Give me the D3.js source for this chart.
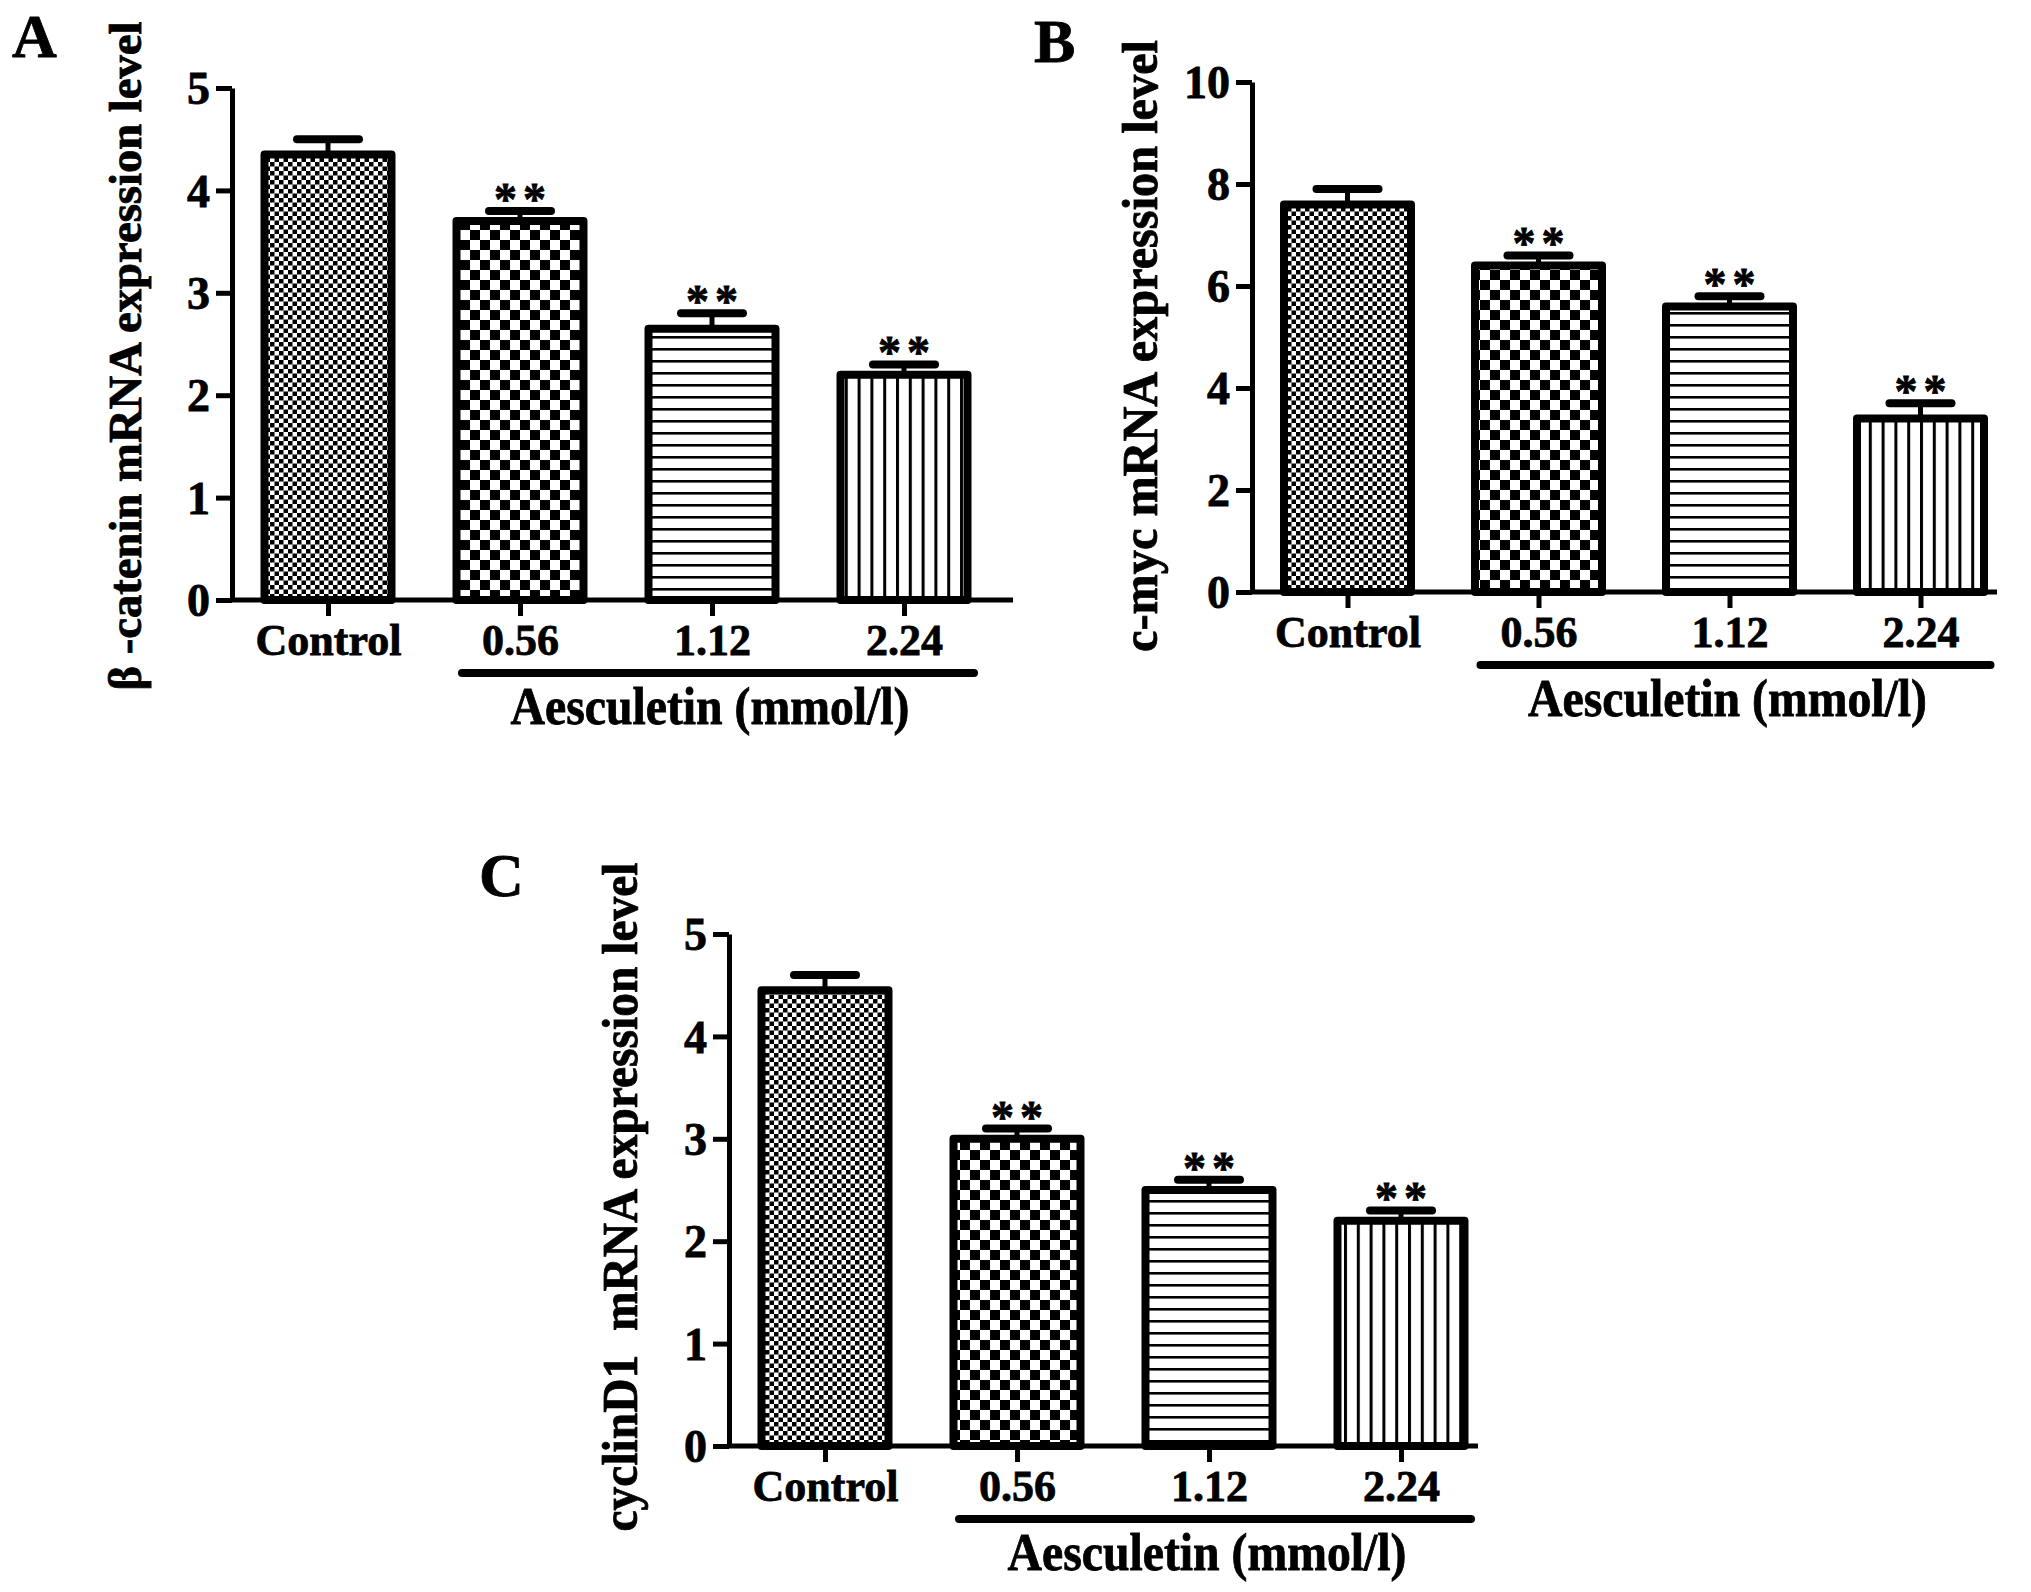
<!DOCTYPE html>
<html>
<head>
<meta charset="utf-8">
<title>Aesculetin mRNA expression</title>
<script src="https://d3js.org/d3.v7.min.js"></script>
<style>
  body { margin: 0; background: #fff; }
  text { font-family: "Liberation Serif", "Times New Roman", serif; font-weight: bold; fill: #000; stroke: #000; stroke-width: 0.8px; }
</style>
</head>
<body>
<script>
// data
var categories = ['Control', '0.56', '1.12', '2.24']
var stars = ['', '**', '**', '**']

var betaCateninMean = [4.35, 3.7, 2.65, 2.2]
var betaCateninErr = [0.15, 0.1, 0.15, 0.1]

var cMycMean = [7.6, 6.4, 5.6, 3.4]
var cMycErr = [0.3, 0.2, 0.2, 0.3]

var cyclinD1Mean = [4.45, 3.0, 2.5, 2.2]
var cyclinD1Err = [0.15, 0.1, 0.1, 0.1]

var ticksFive = [0, 1, 2, 3, 4, 5]
var ticksTen = [0, 2, 4, 6, 8, 10]

var w = 2031
var h = 1592
var svg = d3.select('body').append('svg').attr('width', w).attr('height', h)

// fill patterns, one per group
var defs = svg.append('defs')

var p1 = defs.append('pattern').attr('id', 'fineCheck').attr('patternUnits', 'userSpaceOnUse')
    .attr('width', 9).attr('height', 9)
p1.append('rect').attr('width', 9).attr('height', 9).attr('fill', '#fff')
p1.append('rect').attr('width', 4.5).attr('height', 4.5).attr('fill', '#000')
p1.append('rect').attr('x', 4.5).attr('y', 4.5).attr('width', 4.5).attr('height', 4.5).attr('fill', '#000')

var p2 = defs.append('pattern').attr('id', 'coarseCheck').attr('patternUnits', 'userSpaceOnUse')
    .attr('width', 20).attr('height', 20)
p2.append('rect').attr('width', 20).attr('height', 20).attr('fill', '#fff')
p2.append('rect').attr('width', 10).attr('height', 10).attr('fill', '#000')
p2.append('rect').attr('x', 10).attr('y', 10).attr('width', 10).attr('height', 10).attr('fill', '#000')

var p3 = defs.append('pattern').attr('id', 'hLines').attr('patternUnits', 'userSpaceOnUse')
    .attr('width', 10).attr('height', 12)
p3.append('rect').attr('width', 10).attr('height', 12).attr('fill', '#fff')
p3.append('rect').attr('width', 10).attr('height', 2.6).attr('fill', '#000')

var p4 = defs.append('pattern').attr('id', 'vLines').attr('patternUnits', 'userSpaceOnUse')
    .attr('width', 12.8).attr('height', 10)
p4.append('rect').attr('width', 12.8).attr('height', 10).attr('fill', '#fff')
p4.append('rect').attr('width', 3).attr('height', 10).attr('fill', '#000')

var fills = ['url(#fineCheck)', 'url(#coarseCheck)', 'url(#hLines)', 'url(#vLines)']

function drawPanel(cfg) {
    var y = d3.scaleLinear().domain([0, cfg.max]).range([cfg.y0, cfg.yTop])
    var x = d3.scalePoint().domain(categories)
        .range([cfg.x0, cfg.x0 + categories.length * cfg.step]).padding(0.5)
    var barW = 127

    var g = svg.append('g')

    // bars
    g.selectAll('rect.bar')
        .data(cfg.mean)
        .enter()
        .append('rect')
        .attr('class', 'bar')
        .attr('x', function(d, i) { return x(categories[i]) - barW / 2 })
        .attr('y', function(d) { return y(d) })
        .attr('width', barW)
        .attr('height', function(d) { return cfg.y0 - y(d) })
        .attr('fill', function(d, i) { return fills[i] })
        .attr('stroke', '#000')
        .attr('stroke-width', 8)
        .attr('stroke-linejoin', 'round')

    // error bars (upper only)
    g.selectAll('line.stem')
        .data(cfg.mean)
        .enter()
        .append('line')
        .attr('x1', function(d, i) { return x(categories[i]) })
        .attr('x2', function(d, i) { return x(categories[i]) })
        .attr('y1', function(d) { return y(d) })
        .attr('y2', function(d, i) { return y(d + cfg.err[i]) })
        .attr('stroke', '#000')
        .attr('stroke-width', 5)

    g.selectAll('line.cap')
        .data(cfg.mean)
        .enter()
        .append('line')
        .attr('x1', function(d, i) { return x(categories[i]) - 31 })
        .attr('x2', function(d, i) { return x(categories[i]) + 31 })
        .attr('y1', function(d, i) { return y(d + cfg.err[i]) })
        .attr('y2', function(d, i) { return y(d + cfg.err[i]) })
        .attr('stroke', '#000')
        .attr('stroke-width', 8)
        .attr('stroke-linecap', 'round')

    g.selectAll('text.star')
        .data(cfg.mean)
        .enter()
        .append('text')
        .text(function(d, i) { return stars[i] })
        .attr('x', function(d, i) { return x(categories[i]) + 3 })
        .attr('y', function(d, i) { return y(d + cfg.err[i]) + 4 })
        .attr('text-anchor', 'middle')
        .attr('font-size', 46)
        .attr('letter-spacing', 6)

    // y axis
    var yAxis = g.append('g')
        .attr('transform', 'translate(' + cfg.x0 + ',0)')
        .call(d3.axisLeft(y).tickValues(cfg.ticks).tickFormat(d3.format('d'))
            .tickSize(16).tickSizeOuter(0).tickPadding(6))
    yAxis.attr('font-family', null).attr('font-size', null)
    yAxis.selectAll('path, line').attr('stroke', '#000').attr('stroke-width', 5)
    yAxis.selectAll('text').attr('font-size', 46).attr('dy', '0.34em')

    // x axis
    var xAxis = g.append('g')
        .attr('transform', 'translate(0,' + cfg.y0 + ')')
        .call(d3.axisBottom(x).tickSize(16).tickSizeOuter(0).tickPadding(8))
    xAxis.attr('font-family', null).attr('font-size', null)
    xAxis.select('.domain').remove()
    xAxis.selectAll('line').attr('stroke', '#000').attr('stroke-width', 5)
    xAxis.selectAll('text').attr('font-size', 44)
    xAxis.append('line')
        .attr('x1', cfg.x0).attr('x2', cfg.xEnd)
        .attr('stroke', '#000').attr('stroke-width', 5)

    // bracket under the treated groups
    var lx1 = x(categories[1]) - 58
    var lx2 = x(categories[3]) + 70
    g.append('line')
        .attr('x1', lx1).attr('x2', lx2)
        .attr('y1', cfg.y0 + 73).attr('y2', cfg.y0 + 73)
        .attr('stroke', '#000').attr('stroke-width', 8).attr('stroke-linecap', 'round')

    g.append('text')
        .text('Aesculetin (mmol/l)')
        .attr('x', (lx1 + lx2) / 2 - 8)
        .attr('y', cfg.y0 + 124)
        .attr('text-anchor', 'middle')
        .attr('font-size', 52)
        .attr('textLength', 399)
        .attr('lengthAdjust', 'spacingAndGlyphs')

    // y title
    g.append('text')
        .text(cfg.title)
        .attr('transform', 'translate(' + cfg.titleX + ',' + cfg.titleY + ') rotate(-90)')
        .attr('text-anchor', 'middle')
        .attr('font-size', cfg.titleSize)
        .attr('textLength', cfg.titleLen)
        .attr('lengthAdjust', 'spacingAndGlyphs')
        .style('white-space', 'pre')

    // panel letter
    g.append('text')
        .text(cfg.letter)
        .attr('x', cfg.letterX)
        .attr('y', cfg.letterY)
        .attr('font-size', 62)
}

drawPanel({
    letter: 'A', letterX: 12, letterY: 57,
    title: 'β -catenin mRNA expression level', titleX: 141, titleY: 356, titleLen: 669, titleSize: 47,
    mean: betaCateninMean, err: betaCateninErr, ticks: ticksFive, max: 5,
    x0: 232, y0: 600, yTop: 88, step: 192, xEnd: 1013
})

drawPanel({
    letter: 'B', letterX: 1034, letterY: 62,
    title: 'c-myc mRNA expression level', titleX: 1157, titleY: 346, titleLen: 612, titleSize: 50,
    mean: cMycMean, err: cMycErr, ticks: ticksTen, max: 10,
    x0: 1252, y0: 592, yTop: 82, step: 191, xEnd: 1997
})

drawPanel({
    letter: 'C', letterX: 479, letterY: 896,
    title: 'cyclinD1  mRNA expression level', titleX: 637, titleY: 1197, titleLen: 669, titleSize: 50,
    mean: cyclinD1Mean, err: cyclinD1Err, ticks: ticksFive, max: 5,
    x0: 729, y0: 1446, yTop: 934, step: 192, xEnd: 1478
})
</script>
</body>
</html>
